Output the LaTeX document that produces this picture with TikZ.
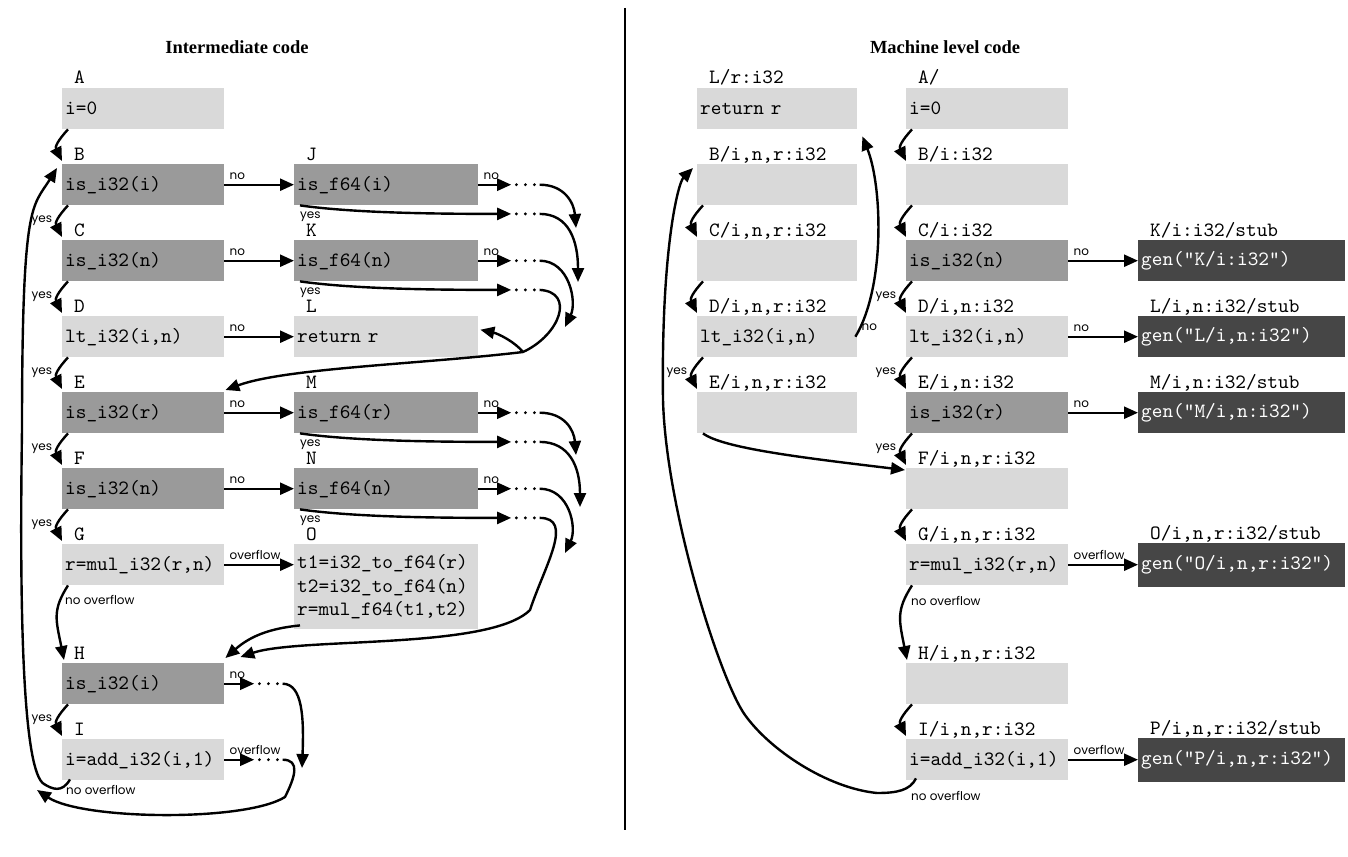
\documentclass[tikz,border=0pt]{standalone}
\usepackage{fontspec}
\setmainfont{Liberation Serif}
\setmonofont{lmmono10-regular.otf}
\newfontfamily\labfont{Poppins}
\usetikzlibrary{arrows.meta,calc}
\definecolor{lightbox}{HTML}{D9D9D9}
\definecolor{darkbox}{HTML}{9A9A9A}
\definecolor{stubbox}{HTML}{464646}
\begin{document}
\begin{tikzpicture}[x=1pt,y=-1pt,
  cbox/.style={anchor=north west, inner xsep=3pt, inner ysep=0pt, minimum height=41pt, align=left, font=\fontsize{20.3}{23.5}\selectfont\ttfamily},
  lbox/.style={cbox, fill=lightbox},
  dbox/.style={cbox, fill=darkbox},
  sbox/.style={cbox, fill=stubbox, text=white, text width=201pt},
  wa/.style={text width=156pt},
  wb/.style={text width=178pt},
  wc/.style={text width=154pt},
  tagl/.style={anchor=base west, inner sep=0pt, font=\fontsize{20.3}{23.5}\selectfont\ttfamily},
  lab/.style={inner sep=1pt, font=\fontsize{12}{14}\selectfont\labfont},
  arr/.style={line width=2.4pt, -{Triangle[length=14pt,width=12pt]}},
  dotsn/.style={minimum width=28pt, minimum height=6pt, inner sep=0pt,
    path picture={\foreach \k in {-9,0,9}{\fill ([xshift=\k pt]path picture bounding box.center) circle[radius=1.6pt];}}},
  ydown/.style={to path={.. controls +(-11,12) and +(-7,-14) .. (\tikztotarget) \tikztonodes}},
  ttl/.style={font=\fontsize{18.5}{22}\selectfont\bfseries}
]
\useasboundingbox (0,0) rectangle (1348,856);

% titles and divider
\node[ttl] (t1) at (237,47) {Intermediate code};
\node[ttl] (t2) at (945,47) {Machine level code};
\draw[line width=2pt] (625,8) -- (625,830);

% ---------------- left panel boxes ----------------
\node[lbox,wa] (A) at (62,88)  {i=0};
\node[dbox,wa] (B) at (62,164) {is\_i32(i)};
\node[dbox,wa] (C) at (62,240) {is\_i32(n)};
\node[lbox,wa] (D) at (62,316) {lt\_i32(i,n)};
\node[dbox,wa] (E) at (62,392) {is\_i32(r)};
\node[dbox,wa] (F) at (62,468) {is\_i32(n)};
\node[lbox,wa] (G) at (62,544) {r=mul\_i32(r,n)};
\node[dbox,wa] (H) at (62,663) {is\_i32(i)};
\node[lbox,wa] (I) at (62,739) {i=add\_i32(i,1)};
\node[dbox,wb] (J) at (294,164) {is\_f64(i)};
\node[dbox,wb] (K) at (294,240) {is\_f64(n)};
\node[lbox,wb] (L) at (294,316) {return r};
\node[dbox,wb] (M) at (294,392) {is\_f64(r)};
\node[dbox,wb] (N) at (294,468) {is\_f64(n)};
\node[lbox,wb,minimum height=85pt] (O) at (294,544) {t1=i32\_to\_f64(r)\\t2=i32\_to\_f64(n)\\r=mul\_f64(t1,t2)};

\foreach \n in {A,B,C,D,E,F,G,H,I,J,K,L,M,N,O}
  \node[tagl] (tag\n) at ([xshift=12pt,yshift=4pt]\n.north west) {\n};

% dots
\node[dotsn] (jn) at ([xshift=47pt]J.east) {};
\node[dotsn] (jy) at ([xshift=47pt,yshift=-8.5pt]J.south east) {};
\node[dotsn] (kn) at ([xshift=47pt]K.east) {};
\node[dotsn] (ky) at ([xshift=47pt,yshift=-8.5pt]K.south east) {};
\node[dotsn] (mn) at ([xshift=47pt]M.east) {};
\node[dotsn] (my) at ([xshift=47pt,yshift=-8.5pt]M.south east) {};
\node[dotsn] (nn) at ([xshift=47pt]N.east) {};
\node[dotsn] (ny) at ([xshift=47pt,yshift=-8.5pt]N.south east) {};
\node[dotsn] (hn) at ([xshift=44pt]H.east) {};
\node[dotsn] (io) at ([xshift=44pt]I.east) {};

\coordinate (jnE) at (576,228);
\coordinate (jyE) at (578,282);
\coordinate (knE) at (565,327);
\coordinate (kj)  at (523,352);
\coordinate (mnE) at (576,455);
\coordinate (myE) at (580,507);
\coordinate (nnE) at (565,553);
\coordinate (nj)  at (530,610);
\coordinate (hnE) at (302,768);
\coordinate (ioM) at (285,797);
\coordinate (ioE) at (37,790);
\coordinate (bk1) at (44,784);
\coordinate (bk2) at (22,430);

% vertical yes-chains
\draw[arr] ([xshift=6pt]A.south west) to[ydown] ([yshift=3pt]B.north west);
\draw[arr] ([xshift=6pt]B.south west) to[ydown] node[lab,anchor=east,xshift=-4pt] (yBC) {yes} ([yshift=3pt]C.north west);
\draw[arr] ([xshift=6pt]C.south west) to[ydown] node[lab,anchor=east,xshift=-4pt] (yCD) {yes} ([yshift=3pt]D.north west);
\draw[arr] ([xshift=6pt]D.south west) to[ydown] node[lab,anchor=east,xshift=-4pt] (yDE) {yes} ([yshift=3pt]E.north west);
\draw[arr] ([xshift=6pt]E.south west) to[ydown] node[lab,anchor=east,xshift=-4pt] (yEF) {yes} ([yshift=3pt]F.north west);
\draw[arr] ([xshift=6pt]F.south west) to[ydown] node[lab,anchor=east,xshift=-4pt] (yFG) {yes} ([yshift=3pt]G.north west);
\draw[arr] ([xshift=6pt]H.south west) to[ydown] node[lab,anchor=east,xshift=-4pt] (yHI) {yes} ([yshift=3pt]I.north west);

% G -> H no overflow
\draw[arr] ([xshift=6pt]G.south west) .. controls +(-16,25) and +(-8,-40) .. ([xshift=2pt,yshift=3pt]H.north west);
\node[lab,anchor=west] (noG) at ($(G.south west)+(2,15)$) {no overflow};

% horizontal no / overflow arrows
\draw[arr] (B.east) -- node[lab,pos=0,anchor=south west,xshift=3pt,yshift=3pt] (nBJ) {no} (J.west);
\draw[arr] (C.east) -- node[lab,pos=0,anchor=south west,xshift=3pt,yshift=3pt] (nCK) {no} (K.west);
\draw[arr] (D.east) -- node[lab,pos=0,anchor=south west,xshift=3pt,yshift=3pt] (nDL) {no} (L.west);
\draw[arr] (E.east) -- node[lab,pos=0,anchor=south west,xshift=3pt,yshift=3pt] (nEM) {no} (M.west);
\draw[arr] (F.east) -- node[lab,pos=0,anchor=south west,xshift=3pt,yshift=3pt] (nFN) {no} (N.west);
\draw[arr] (G.east) -- node[lab,pos=0,anchor=south west,xshift=3pt,yshift=3pt] (oGO) {overflow} (G.east -| O.west);
\draw[arr] (H.east) -- node[lab,pos=0,anchor=south west,xshift=3pt,yshift=3pt] (nHh) {no} (hn.west);
\draw[arr] (I.east) -- node[lab,pos=0,anchor=south west,xshift=3pt,yshift=3pt] (oIi) {overflow} (io.west);

\foreach \b/\d in {J/j,K/k,M/m,N/n}{
  \draw[arr] (\b.east) -- node[lab,pos=0,anchor=south west,xshift=3pt,yshift=3pt] (no\b) {no} (\d n.west);
  \draw[arr] ([xshift=6pt]\b.south west) node[lab,anchor=north west,xshift=-2pt,yshift=-4pt] (ye\b) {yes}
     .. controls +(50,7) and +(-90,0) .. (\d y.west);
}

% curves from dots (J/K group)
\draw[arr] (jn.east) .. controls +(25,0) and +(-2,-25) .. (jnE);
\draw[arr] (jy.east) .. controls +(30,0) and +(0,-40) .. (jyE);
\draw[arr] (kn.east) .. controls +(30,0) and +(12,-25) .. (knE);
\draw[arr] (ky.east) .. controls +(36,2) and +(37,-17) .. (kj)
   .. controls +(-100,12) and +(60,-22) .. ([xshift=1pt,yshift=2pt]E.north east);
\draw[arr] (kj) .. controls +(-8,-10) and +(18,4) .. ([xshift=2pt,yshift=7pt]L.east);

% curves from dots (M/N group)
\draw[arr] (mn.east) .. controls +(25,0) and +(-2,-25) .. (mnE);
\draw[arr] (my.east) .. controls +(30,0) and +(0,-40) .. (myE);
\draw[arr] (nn.east) .. controls +(30,0) and +(12,-25) .. (nnE);
\draw[arr] (ny.east) .. controls +(35,0) and +(15,-45) .. (nj)
   .. controls +(-40,40) and +(60,-20) .. ([xshift=16pt,yshift=6pt]H.north east);
\draw[arr] ([xshift=6pt,yshift=4pt]O.south west) .. controls +(-30,3) and +(25,-22) .. ([xshift=1pt,yshift=5pt]H.north east);

% bottom loop
\draw[arr] (hn.east) .. controls +(20,0) and +(2,-50) .. (hnE);
\draw[arr] (io.east) .. controls +(18,0) and +(10,-20) .. (ioM)
   .. controls +(-40,25) and +(45,30) .. (ioE);
\draw[arr] ([xshift=8pt,yshift=1pt]I.south west) .. controls +(-8,14) and +(8,5) .. (bk1)
   .. controls +(-20,-12) and +(-3,200) .. (bk2)
   .. controls +(0,-230) and +(-25,40) .. ([xshift=-5pt,yshift=-4pt]B.north west);
\node[lab,anchor=west] (noI) at ($(I.south west)+(3,10)$) {no overflow};

% ---------------- right panel ----------------
\node[lbox,wc] (Lr) at (697,88)  {return r};
\node[lbox,wc] (B2) at (697,164) {};
\node[lbox,wc] (C2) at (697,240) {};
\node[lbox,wc] (D2) at (697,316) {lt\_i32(i,n)};
\node[lbox,wc] (E2) at (697,392) {};
\node[lbox,wa] (A3) at (906,88)  {i=0};
\node[lbox,wa] (B3) at (906,164) {};
\node[dbox,wa] (C3) at (906,240) {is\_i32(n)};
\node[lbox,wa] (D3) at (906,316) {lt\_i32(i,n)};
\node[dbox,wa] (E3) at (906,392) {is\_i32(r)};
\node[lbox,wa] (F3) at (906,468) {};
\node[lbox,wa] (G3) at (906,544) {r=mul\_i32(r,n)};
\node[lbox,wa] (H3) at (906,663) {};
\node[lbox,wa] (I3) at (906,739) {i=add\_i32(i,1)};
\node[sbox] (Ks) at (1138,240) {gen("K/i:i32")};
\node[sbox] (Ls) at (1138,316) {gen("L/i,n:i32")};
\node[sbox] (Ms) at (1138,392) {gen("M/i,n:i32")};
\node[sbox,minimum height=44pt] (Os) at (1138,543) {gen("O/i,n,r:i32")};
\node[sbox,minimum height=44pt] (Ps) at (1138,738) {gen("P/i,n,r:i32")};

\node[tagl] (tagLr) at ([xshift=12pt,yshift=4pt]Lr.north west) {L/r:i32};
\node[tagl] (tagB2) at ([xshift=12pt,yshift=4pt]B2.north west) {B/i,n,r:i32};
\node[tagl] (tagC2) at ([xshift=12pt,yshift=4pt]C2.north west) {C/i,n,r:i32};
\node[tagl] (tagD2) at ([xshift=12pt,yshift=4pt]D2.north west) {D/i,n,r:i32};
\node[tagl] (tagE2) at ([xshift=12pt,yshift=4pt]E2.north west) {E/i,n,r:i32};
\node[tagl] (tagA3) at ([xshift=12pt,yshift=4pt]A3.north west) {A/};
\node[tagl] (tagB3) at ([xshift=12pt,yshift=4pt]B3.north west) {B/i:i32};
\node[tagl] (tagC3) at ([xshift=12pt,yshift=4pt]C3.north west) {C/i:i32};
\node[tagl] (tagD3) at ([xshift=12pt,yshift=4pt]D3.north west) {D/i,n:i32};
\node[tagl] (tagE3) at ([xshift=12pt,yshift=4pt]E3.north west) {E/i,n:i32};
\node[tagl] (tagF3) at ([xshift=12pt,yshift=4pt]F3.north west) {F/i,n,r:i32};
\node[tagl] (tagG3) at ([xshift=12pt,yshift=4pt]G3.north west) {G/i,n,r:i32};
\node[tagl] (tagH3) at ([xshift=12pt,yshift=4pt]H3.north west) {H/i,n,r:i32};
\node[tagl] (tagI3) at ([xshift=12pt,yshift=4pt]I3.north west) {I/i,n,r:i32};
\node[tagl] (tagKs) at ([xshift=12pt,yshift=4pt]Ks.north west) {K/i:i32/stub};
\node[tagl] (tagLs) at ([xshift=12pt,yshift=4pt]Ls.north west) {L/i,n:i32/stub};
\node[tagl] (tagMs) at ([xshift=12pt,yshift=4pt]Ms.north west) {M/i,n:i32/stub};
\node[tagl] (tagOs) at ([xshift=12pt,yshift=4pt]Os.north west) {O/i,n,r:i32/stub};
\node[tagl] (tagPs) at ([xshift=12pt,yshift=4pt]Ps.north west) {P/i,n,r:i32/stub};

% right panel chains
\draw[arr] ([xshift=6pt]B2.south west) to[ydown] ([yshift=3pt]C2.north west);
\draw[arr] ([xshift=6pt]C2.south west) to[ydown] ([yshift=3pt]D2.north west);
\draw[arr] ([xshift=6pt]D2.south west) to[ydown] node[lab,anchor=east,xshift=-4pt] (yD2) {yes} ([yshift=3pt]E2.north west);
\draw[arr] ([xshift=6pt]A3.south west) to[ydown] ([yshift=3pt]B3.north west);
\draw[arr] ([xshift=6pt]B3.south west) to[ydown] ([yshift=3pt]C3.north west);
\draw[arr] ([xshift=6pt]C3.south west) to[ydown] node[lab,anchor=east,xshift=-4pt] (yC3) {yes} ([yshift=3pt]D3.north west);
\draw[arr] ([xshift=6pt]D3.south west) to[ydown] node[lab,anchor=east,xshift=-4pt] (yD3) {yes} ([yshift=3pt]E3.north west);
\draw[arr] ([xshift=6pt]E3.south west) to[ydown] node[lab,anchor=east,xshift=-4pt] (yE3) {yes} ([yshift=3pt]F3.north west);
\draw[arr] ([xshift=6pt]F3.south west) to[ydown] ([yshift=3pt]G3.north west);
\draw[arr] ([xshift=6pt]H3.south west) to[ydown] ([yshift=3pt]I3.north west);

\draw[arr] ([xshift=6pt]G3.south west) .. controls +(-16,25) and +(-8,-40) .. ([xshift=1pt,yshift=3pt]H3.north west);
\node[lab,anchor=west] (noG3) at ($(G3.south west)+(4,16)$) {no overflow};
\node[lab,anchor=west] (noI3) at ($(I3.south west)+(4,16)$) {no overflow};

% D2 no -> return r
\draw[arr] ([xshift=-2pt]D2.east) .. controls +(30,-50) and +(20,50) .. ([xshift=5pt,yshift=-7pt]Lr.south east);
\node[lab,anchor=west] (nD2) at ($(D2.east)+(3,-9)$) {no};

% E2 -> F3
\draw[arr] ([xshift=6pt]E2.south west) .. controls +(20,15) and +(-100,-12) .. ([xshift=-1pt,yshift=-2pt]F3.north west);

% I3 -> B2 back edge
\coordinate (rc1) at (877,793);
\coordinate (rc2) at (745,715);
\coordinate (rc3) at (663,400);
\draw[arr] ([xshift=10pt,yshift=2pt]I3.south west) .. controls +(-6,12) and +(20,0) .. (rc1)
   .. controls +(-50,-5) and +(25,35) .. (rc2)
   .. controls +(-25,-35) and +(3,110) .. (rc3)
   .. controls +(-2,-150) and +(-15,15) .. ([xshift=-4pt,yshift=-4pt]B2.north west);

% stub arrows
\draw[arr] (C3.east) -- node[lab,pos=0,anchor=south west,xshift=3pt,yshift=3pt] (nC3) {no} (Ks.west);
\draw[arr] (D3.east) -- node[lab,pos=0,anchor=south west,xshift=3pt,yshift=3pt] (nD3) {no} (Ls.west);
\draw[arr] (E3.east) -- node[lab,pos=0,anchor=south west,xshift=3pt,yshift=3pt] (nE3) {no} (Ms.west);
\draw[arr] (G3.east) -- node[lab,pos=0,anchor=south west,xshift=3pt,yshift=3pt] (oG3) {overflow} (G3.east -| Os.west);
\draw[arr] (I3.east) -- node[lab,pos=0,anchor=south west,xshift=3pt,yshift=3pt] (oI3) {overflow} (I3.east -| Ps.west);
\end{tikzpicture}
\end{document}
